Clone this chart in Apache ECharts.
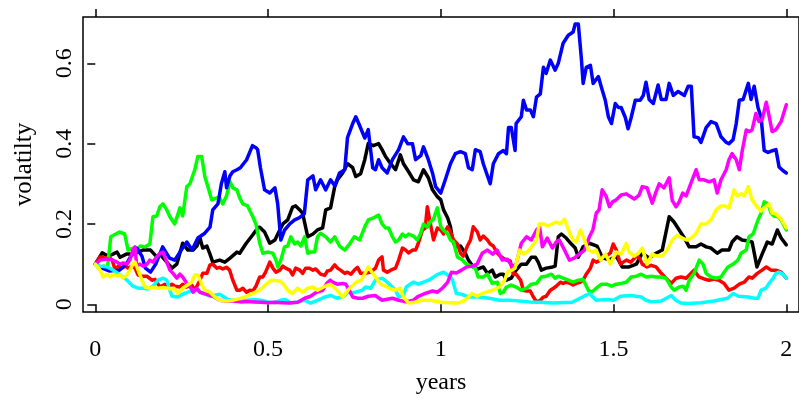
<!DOCTYPE html>
<html><head><meta charset="utf-8">
<script src="https://cdn.jsdelivr.net/npm/echarts@6/dist/echarts.min.js"></script>
<style>html,body{margin:0;padding:0;background:#fff}#c{width:799px;height:404px}</style>
</head><body><div id="c"></div>
<script>
const xTicks = [0, 0.5, 1, 1.5, 2];
const xTickLabels = ['0', '0.5', '1', '1.5', '2'];
const yTicks = [0, 0.2, 0.4, 0.6];
const yTickLabels = ['0', '0.2', '0.4', '0.6'];
const xTitle = 'years';
const yTitle = 'volatilty';
const seriesNames = ['black', 'red', 'green', 'blue', 'cyan', 'magenta', 'yellow'];
const seriesColors = ['#000000', '#FF0000', '#00FF00', '#0000FF', '#00FFFF', '#FF00FF', '#FFFF00'];

const black = [[0,0.10],[0.02,0.128],[0.037,0.12],[0.051,0.125],[0.063,0.13],[0.072,0.117],[0.09,0.125],[0.11,0.125],[0.138,0.135],[0.16,0.135],[0.178,0.118],[0.187,0.125],[0.207,0.105],[0.222,0.09],[0.236,0.10],[0.253,0.152],[0.268,0.135],[0.283,0.135],[0.294,0.145],[0.303,0.165],[0.311,0.14],[0.323,0.145],[0.332,0.125],[0.34,0.105],[0.36,0.11],[0.375,0.105],[0.39,0.115],[0.41,0.13],[0.418,0.127],[0.437,0.152],[0.455,0.172],[0.47,0.19],[0.476,0.192],[0.49,0.18],[0.505,0.152],[0.52,0.16],[0.534,0.185],[0.543,0.20],[0.557,0.21],[0.571,0.242],[0.58,0.245],[0.592,0.235],[0.6,0.227],[0.615,0.168],[0.63,0.175],[0.643,0.185],[0.658,0.19],[0.667,0.235],[0.681,0.24],[0.693,0.293],[0.701,0.31],[0.716,0.327],[0.73,0.35],[0.745,0.34],[0.754,0.318],[0.768,0.325],[0.78,0.36],[0.79,0.40],[0.805,0.395],[0.82,0.40],[0.83,0.385],[0.84,0.368],[0.855,0.35],[0.869,0.335],[0.883,0.372],[0.892,0.35],[0.907,0.33],[0.921,0.31],[0.935,0.305],[0.95,0.335],[0.964,0.315],[0.976,0.285],[0.99,0.268],[1.0,0.26],[1.008,0.235],[1.02,0.215],[1.028,0.193],[1.034,0.16],[1.042,0.143],[1.057,0.145],[1.071,0.127],[1.08,0.11],[1.094,0.093],[1.108,0.088],[1.123,0.093],[1.135,0.077],[1.149,0.085],[1.158,0.068],[1.172,0.075],[1.181,0.075],[1.19,0.06],[1.204,0.065],[1.218,0.085],[1.233,0.10],[1.248,0.10],[1.262,0.117],[1.274,0.117],[1.282,0.105],[1.291,0.085],[1.305,0.09],[1.32,0.092],[1.331,0.095],[1.34,0.168],[1.349,0.175],[1.363,0.165],[1.378,0.15],[1.389,0.14],[1.398,0.117],[1.412,0.143],[1.43,0.152],[1.452,0.145],[1.467,0.117],[1.488,0.11],[1.508,0.12],[1.525,0.093],[1.545,0.093],[1.566,0.10],[1.583,0.127],[1.603,0.115],[1.623,0.127],[1.641,0.135],[1.661,0.218],[1.675,0.205],[1.69,0.185],[1.705,0.165],[1.719,0.143],[1.739,0.143],[1.753,0.15],[1.768,0.143],[1.782,0.14],[1.8,0.127],[1.814,0.135],[1.834,0.135],[1.843,0.155],[1.857,0.168],[1.872,0.16],[1.886,0.158],[1.901,0.155],[1.915,0.093],[1.93,0.125],[1.945,0.155],[1.959,0.15],[1.974,0.185],[1.985,0.165],[2.0,0.148]];

const red = [[0,0.10],[0.014,0.118],[0.029,0.115],[0.038,0.118],[0.049,0.11],[0.058,0.085],[0.066,0.095],[0.078,0.09],[0.087,0.095],[0.095,0.09],[0.107,0.095],[0.115,0.09],[0.124,0.073],[0.135,0.07],[0.149,0.07],[0.164,0.06],[0.173,0.062],[0.187,0.043],[0.201,0.05],[0.21,0.043],[0.222,0.05],[0.23,0.045],[0.245,0.043],[0.253,0.05],[0.263,0.043],[0.279,0.048],[0.288,0.035],[0.303,0.06],[0.311,0.077],[0.323,0.077],[0.332,0.098],[0.34,0.10],[0.352,0.09],[0.36,0.092],[0.369,0.088],[0.38,0.092],[0.389,0.085],[0.398,0.06],[0.41,0.035],[0.418,0.035],[0.427,0.04],[0.438,0.03],[0.447,0.035],[0.456,0.033],[0.465,0.045],[0.476,0.068],[0.485,0.068],[0.493,0.08],[0.505,0.105],[0.514,0.09],[0.523,0.08],[0.534,0.085],[0.543,0.095],[0.551,0.09],[0.563,0.085],[0.571,0.073],[0.58,0.09],[0.592,0.085],[0.6,0.077],[0.609,0.09],[0.62,0.09],[0.63,0.085],[0.638,0.088],[0.652,0.075],[0.664,0.072],[0.672,0.083],[0.681,0.085],[0.693,0.098],[0.701,0.09],[0.71,0.085],[0.722,0.077],[0.73,0.08],[0.74,0.075],[0.75,0.085],[0.759,0.092],[0.768,0.077],[0.782,0.077],[0.797,0.08],[0.811,0.09],[0.82,0.11],[0.83,0.118],[0.834,0.085],[0.845,0.08],[0.855,0.085],[0.869,0.09],[0.878,0.11],[0.889,0.14],[0.898,0.135],[0.907,0.128],[0.918,0.135],[0.927,0.135],[0.935,0.152],[0.947,0.185],[0.955,0.19],[0.961,0.243],[0.97,0.20],[0.979,0.16],[0.99,0.19],[1.0,0.185],[1.008,0.175],[1.02,0.193],[1.028,0.18],[1.037,0.16],[1.048,0.15],[1.057,0.127],[1.065,0.12],[1.077,0.145],[1.086,0.16],[1.094,0.193],[1.106,0.18],[1.114,0.16],[1.123,0.17],[1.135,0.16],[1.143,0.15],[1.152,0.145],[1.164,0.127],[1.172,0.12],[1.181,0.115],[1.19,0.11],[1.201,0.108],[1.21,0.075],[1.218,0.075],[1.231,0.06],[1.239,0.035],[1.248,0.033],[1.259,0.033],[1.268,0.018],[1.277,0.006],[1.288,0.01],[1.297,0.018],[1.305,0.02],[1.317,0.035],[1.326,0.04],[1.334,0.045],[1.346,0.055],[1.354,0.052],[1.363,0.055],[1.375,0.052],[1.383,0.048],[1.392,0.052],[1.404,0.055],[1.412,0.06],[1.421,0.075],[1.433,0.09],[1.441,0.11],[1.45,0.105],[1.462,0.11],[1.47,0.12],[1.479,0.12],[1.491,0.128],[1.499,0.15],[1.508,0.135],[1.52,0.10],[1.528,0.105],[1.537,0.11],[1.55,0.105],[1.566,0.12],[1.575,0.115],[1.583,0.10],[1.597,0.093],[1.609,0.097],[1.623,0.093],[1.638,0.077],[1.652,0.065],[1.667,0.052],[1.681,0.065],[1.695,0.068],[1.71,0.065],[1.733,0.085],[1.747,0.068],[1.762,0.063],[1.776,0.06],[1.791,0.063],[1.805,0.06],[1.82,0.052],[1.834,0.035],[1.849,0.04],[1.864,0.05],[1.878,0.055],[1.892,0.068],[1.901,0.065],[1.916,0.077],[1.93,0.085],[1.942,0.093],[1.956,0.085],[1.97,0.085],[1.985,0.08],[2.0,0.065]];

const green = [[0,0.10],[0.01,0.09],[0.025,0.095],[0.035,0.09],[0.045,0.168],[0.05,0.17],[0.07,0.18],[0.085,0.175],[0.095,0.135],[0.11,0.14],[0.12,0.135],[0.13,0.145],[0.145,0.143],[0.158,0.15],[0.167,0.218],[0.178,0.22],[0.187,0.243],[0.196,0.25],[0.207,0.235],[0.216,0.218],[0.23,0.20],[0.245,0.24],[0.253,0.22],[0.265,0.293],[0.274,0.30],[0.288,0.335],[0.297,0.368],[0.308,0.368],[0.317,0.318],[0.326,0.293],[0.337,0.26],[0.352,0.265],[0.36,0.265],[0.369,0.25],[0.38,0.27],[0.39,0.305],[0.398,0.29],[0.41,0.285],[0.418,0.265],[0.427,0.25],[0.441,0.245],[0.456,0.218],[0.465,0.20],[0.476,0.152],[0.485,0.127],[0.50,0.13],[0.514,0.127],[0.523,0.11],[0.528,0.093],[0.537,0.11],[0.548,0.143],[0.557,0.145],[0.566,0.168],[0.577,0.15],[0.586,0.155],[0.595,0.145],[0.606,0.168],[0.615,0.127],[0.623,0.13],[0.635,0.13],[0.643,0.168],[0.652,0.177],[0.667,0.168],[0.681,0.155],[0.693,0.168],[0.707,0.145],[0.722,0.135],[0.736,0.15],[0.75,0.168],[0.765,0.16],[0.78,0.193],[0.79,0.21],[0.805,0.215],[0.82,0.222],[0.83,0.20],[0.84,0.19],[0.849,0.19],[0.86,0.168],[0.869,0.155],[0.878,0.16],[0.889,0.175],[0.898,0.168],[0.907,0.175],[0.921,0.17],[0.932,0.16],[0.941,0.175],[0.95,0.20],[0.961,0.192],[0.97,0.205],[0.979,0.212],[0.99,0.24],[1.0,0.193],[1.008,0.185],[1.02,0.175],[1.028,0.16],[1.037,0.155],[1.048,0.118],[1.063,0.11],[1.071,0.102],[1.086,0.095],[1.10,0.09],[1.108,0.068],[1.123,0.068],[1.135,0.075],[1.149,0.052],[1.164,0.055],[1.172,0.027],[1.181,0.03],[1.19,0.043],[1.204,0.048],[1.218,0.043],[1.233,0.035],[1.248,0.04],[1.262,0.05],[1.277,0.052],[1.291,0.068],[1.305,0.07],[1.32,0.075],[1.331,0.065],[1.34,0.07],[1.354,0.065],[1.369,0.06],[1.383,0.055],[1.398,0.06],[1.412,0.062],[1.427,0.035],[1.436,0.03],[1.45,0.04],[1.465,0.05],[1.48,0.05],[1.494,0.045],[1.508,0.05],[1.522,0.052],[1.537,0.055],[1.551,0.068],[1.566,0.07],[1.58,0.075],[1.594,0.068],[1.609,0.07],[1.623,0.068],[1.638,0.068],[1.652,0.065],[1.667,0.043],[1.675,0.035],[1.69,0.043],[1.702,0.045],[1.71,0.035],[1.719,0.06],[1.733,0.077],[1.748,0.11],[1.759,0.10],[1.768,0.077],[1.782,0.068],[1.797,0.065],[1.811,0.068],[1.82,0.08],[1.831,0.093],[1.846,0.10],[1.86,0.11],[1.869,0.127],[1.884,0.135],[1.892,0.168],[1.904,0.175],[1.918,0.21],[1.927,0.227],[1.936,0.255],[1.947,0.25],[1.956,0.227],[1.964,0.22],[1.976,0.218],[1.985,0.21],[2.0,0.185]];

const blue = [[0,0.10],[0.02,0.09],[0.04,0.083],[0.07,0.085],[0.09,0.10],[0.11,0.13],[0.12,0.14],[0.135,0.12],[0.145,0.09],[0.16,0.08],[0.175,0.10],[0.195,0.143],[0.215,0.115],[0.23,0.11],[0.245,0.13],[0.265,0.155],[0.28,0.135],[0.297,0.165],[0.317,0.177],[0.332,0.192],[0.34,0.235],[0.355,0.25],[0.365,0.30],[0.375,0.33],[0.38,0.29],[0.39,0.32],[0.398,0.33],[0.41,0.335],[0.42,0.34],[0.438,0.36],[0.455,0.395],[0.465,0.39],[0.47,0.385],[0.478,0.34],[0.49,0.285],[0.505,0.277],[0.52,0.29],[0.528,0.25],[0.537,0.16],[0.548,0.185],[0.563,0.20],[0.577,0.21],[0.59,0.215],[0.605,0.225],[0.615,0.31],[0.63,0.32],[0.638,0.285],[0.652,0.31],[0.667,0.285],[0.681,0.31],[0.693,0.295],[0.707,0.327],[0.722,0.335],[0.73,0.415],[0.745,0.45],[0.754,0.467],[0.765,0.445],[0.78,0.414],[0.79,0.435],[0.803,0.34],[0.811,0.335],[0.82,0.36],[0.83,0.34],[0.845,0.327],[0.86,0.36],[0.878,0.385],[0.892,0.417],[0.904,0.40],[0.918,0.40],[0.927,0.36],[0.942,0.37],[0.95,0.392],[0.964,0.36],[0.976,0.327],[0.985,0.293],[1.0,0.277],[1.013,0.31],[1.028,0.35],[1.042,0.375],[1.057,0.38],[1.071,0.375],[1.08,0.34],[1.091,0.335],[1.10,0.385],[1.114,0.38],[1.123,0.35],[1.143,0.30],[1.152,0.35],[1.167,0.375],[1.181,0.383],[1.19,0.375],[1.196,0.44],[1.204,0.44],[1.215,0.383],[1.218,0.45],[1.233,0.467],[1.239,0.508],[1.248,0.484],[1.259,0.484],[1.268,0.467],[1.277,0.516],[1.288,0.524],[1.297,0.59],[1.305,0.575],[1.317,0.608],[1.331,0.583],[1.34,0.60],[1.354,0.65],[1.369,0.67],[1.383,0.678],[1.389,0.698],[1.398,0.698],[1.407,0.61],[1.412,0.55],[1.421,0.59],[1.433,0.595],[1.441,0.55],[1.456,0.567],[1.465,0.54],[1.476,0.508],[1.485,0.467],[1.494,0.45],[1.505,0.50],[1.514,0.49],[1.522,0.49],[1.534,0.465],[1.542,0.437],[1.551,0.465],[1.563,0.508],[1.577,0.508],[1.586,0.52],[1.594,0.553],[1.603,0.51],[1.615,0.50],[1.629,0.546],[1.638,0.51],[1.652,0.51],[1.661,0.55],[1.673,0.52],[1.687,0.53],[1.705,0.52],[1.716,0.543],[1.725,0.543],[1.733,0.417],[1.745,0.415],[1.753,0.403],[1.768,0.44],[1.782,0.455],[1.797,0.45],[1.811,0.417],[1.826,0.403],[1.834,0.40],[1.846,0.41],[1.855,0.45],[1.864,0.508],[1.875,0.51],[1.89,0.55],[1.898,0.51],[1.907,0.543],[1.918,0.49],[1.927,0.465],[1.936,0.383],[1.947,0.378],[1.962,0.383],[1.97,0.385],[1.979,0.342],[1.99,0.333],[2.0,0.327]];

const cyan = [[0,0.10],[0.014,0.095],[0.035,0.093],[0.052,0.085],[0.072,0.073],[0.092,0.06],[0.109,0.045],[0.124,0.04],[0.138,0.04],[0.152,0.038],[0.167,0.045],[0.182,0.06],[0.196,0.065],[0.207,0.06],[0.216,0.035],[0.222,0.02],[0.239,0.018],[0.253,0.025],[0.268,0.03],[0.283,0.035],[0.293,0.035],[0.303,0.03],[0.318,0.025],[0.332,0.02],[0.36,0.025],[0.384,0.012],[0.398,0.01],[0.42,0.008],[0.44,0.01],[0.462,0.012],[0.48,0.01],[0.50,0.006],[0.52,0.004],[0.536,0.01],[0.55,0.012],[0.566,0.003],[0.586,0.006],[0.606,0.01],[0.623,0.003],[0.643,0.01],[0.664,0.018],[0.681,0.022],[0.70,0.015],[0.72,0.02],[0.73,0.03],[0.745,0.028],[0.773,0.035],[0.782,0.043],[0.797,0.04],[0.811,0.06],[0.83,0.065],[0.845,0.055],[0.869,0.035],[0.878,0.018],[0.892,0.022],[0.90,0.043],[0.92,0.055],[0.935,0.05],[0.965,0.06],[0.988,0.073],[1.008,0.08],[1.028,0.068],[1.034,0.06],[1.045,0.027],[1.06,0.025],[1.082,0.018],[1.11,0.018],[1.14,0.015],[1.17,0.01],[1.20,0.01],[1.256,0.006],[1.29,0.005],[1.322,0.003],[1.38,0.005],[1.41,0.018],[1.43,0.027],[1.45,0.01],[1.48,0.012],[1.50,0.01],[1.52,0.02],[1.55,0.022],[1.58,0.018],[1.594,0.01],[1.609,0.006],[1.638,0.008],[1.667,0.022],[1.68,0.01],[1.695,0.003],[1.715,0.002],[1.753,0.004],[1.79,0.008],[1.83,0.015],[1.846,0.027],[1.862,0.02],[1.89,0.018],[1.907,0.015],[1.918,0.015],[1.927,0.035],[1.941,0.04],[1.95,0.052],[1.962,0.065],[1.97,0.077],[1.979,0.08],[1.99,0.075],[2.0,0.065]];

const magenta = [[0,0.10],[0.014,0.11],[0.035,0.113],[0.05,0.11],[0.063,0.105],[0.072,0.10],[0.081,0.103],[0.092,0.10],[0.10,0.11],[0.109,0.135],[0.115,0.143],[0.12,0.095],[0.129,0.10],[0.138,0.095],[0.15,0.10],[0.158,0.11],[0.167,0.105],[0.178,0.118],[0.187,0.127],[0.196,0.13],[0.207,0.105],[0.216,0.085],[0.225,0.077],[0.236,0.065],[0.245,0.075],[0.253,0.068],[0.265,0.052],[0.274,0.045],[0.283,0.03],[0.294,0.04],[0.303,0.03],[0.323,0.025],[0.34,0.02],[0.36,0.01],[0.38,0.008],[0.398,0.008],[0.42,0.006],[0.44,0.007],[0.46,0.006],[0.48,0.005],[0.50,0.004],[0.52,0.005],[0.54,0.004],[0.56,0.003],[0.586,0.005],[0.606,0.015],[0.623,0.02],[0.64,0.03],[0.658,0.035],[0.67,0.052],[0.68,0.06],[0.687,0.055],[0.70,0.05],[0.716,0.052],[0.725,0.05],[0.735,0.035],[0.745,0.018],[0.76,0.015],[0.774,0.015],[0.79,0.02],[0.81,0.022],[0.83,0.01],[0.86,0.015],[0.878,0.01],[0.90,0.006],[0.92,0.01],[0.935,0.02],[0.955,0.027],[0.976,0.033],[0.99,0.03],[1.005,0.04],[1.02,0.055],[1.031,0.08],[1.045,0.078],[1.06,0.085],[1.074,0.093],[1.09,0.095],[1.105,0.10],[1.12,0.127],[1.135,0.135],[1.15,0.125],[1.163,0.135],[1.178,0.11],[1.193,0.112],[1.207,0.093],[1.218,0.10],[1.233,0.152],[1.248,0.168],[1.262,0.16],[1.277,0.185],[1.286,0.193],[1.294,0.143],[1.308,0.165],[1.323,0.14],[1.334,0.155],[1.343,0.16],[1.358,0.135],[1.372,0.11],[1.386,0.115],[1.401,0.125],[1.416,0.135],[1.43,0.168],[1.44,0.185],[1.45,0.227],[1.458,0.235],[1.467,0.285],[1.478,0.27],[1.488,0.243],[1.497,0.255],[1.508,0.26],[1.522,0.272],[1.537,0.275],[1.545,0.27],[1.56,0.262],[1.574,0.272],[1.583,0.293],[1.597,0.29],[1.612,0.252],[1.623,0.28],[1.632,0.30],[1.646,0.29],[1.661,0.315],[1.67,0.258],[1.681,0.243],[1.69,0.255],[1.70,0.277],[1.71,0.27],[1.739,0.335],[1.748,0.31],[1.762,0.31],[1.777,0.305],[1.791,0.31],[1.80,0.277],[1.811,0.31],[1.826,0.335],[1.834,0.36],[1.843,0.375],[1.855,0.36],[1.864,0.335],[1.872,0.38],[1.884,0.434],[1.892,0.43],[1.901,0.434],[1.912,0.475],[1.921,0.455],[1.93,0.46],[1.942,0.503],[1.95,0.47],[1.959,0.43],[1.97,0.435],[1.985,0.455],[2.0,0.497]];

const yellow = [[0,0.10],[0.014,0.085],[0.023,0.068],[0.035,0.075],[0.043,0.068],[0.052,0.075],[0.063,0.07],[0.072,0.073],[0.08,0.065],[0.092,0.073],[0.10,0.085],[0.109,0.10],[0.115,0.105],[0.124,0.085],[0.135,0.06],[0.144,0.043],[0.158,0.04],[0.167,0.042],[0.182,0.04],[0.196,0.042],[0.21,0.04],[0.22,0.038],[0.228,0.04],[0.239,0.027],[0.253,0.04],[0.279,0.055],[0.288,0.073],[0.297,0.073],[0.308,0.05],[0.317,0.035],[0.332,0.03],[0.346,0.018],[0.36,0.01],[0.38,0.008],[0.398,0.01],[0.418,0.014],[0.438,0.02],[0.456,0.027],[0.475,0.035],[0.495,0.05],[0.51,0.06],[0.534,0.058],[0.543,0.052],[0.557,0.035],[0.571,0.027],[0.585,0.04],[0.60,0.03],[0.615,0.04],[0.63,0.043],[0.643,0.035],[0.658,0.042],[0.68,0.05],[0.694,0.04],[0.707,0.027],[0.716,0.018],[0.736,0.04],[0.755,0.055],[0.77,0.06],[0.79,0.093],[0.805,0.075],[0.81,0.077],[0.826,0.05],[0.84,0.045],[0.855,0.038],[0.869,0.035],[0.883,0.04],[0.892,0.018],[0.907,0.003],[0.925,0.005],[0.945,0.01],[0.97,0.01],[1.0,0.005],[1.02,0.004],[1.05,0.003],[1.07,0.01],[1.09,0.027],[1.105,0.02],[1.12,0.027],[1.15,0.035],[1.17,0.043],[1.185,0.06],[1.193,0.08],[1.205,0.085],[1.215,0.09],[1.228,0.135],[1.24,0.125],[1.256,0.135],[1.277,0.16],[1.285,0.20],[1.297,0.20],[1.31,0.195],[1.322,0.20],[1.334,0.205],[1.346,0.20],[1.358,0.212],[1.374,0.175],[1.383,0.16],[1.392,0.155],[1.404,0.185],[1.416,0.16],[1.427,0.135],[1.441,0.13],[1.45,0.135],[1.462,0.11],[1.477,0.125],[1.49,0.10],[1.508,0.13],[1.522,0.125],[1.537,0.152],[1.545,0.13],[1.56,0.12],[1.575,0.13],[1.583,0.14],[1.597,0.10],[1.612,0.125],[1.626,0.12],[1.641,0.12],[1.655,0.135],[1.67,0.16],[1.684,0.172],[1.699,0.165],[1.713,0.16],[1.725,0.165],[1.739,0.177],[1.753,0.20],[1.768,0.20],[1.782,0.21],[1.797,0.235],[1.811,0.245],[1.82,0.245],[1.834,0.24],[1.849,0.285],[1.857,0.27],[1.869,0.275],[1.878,0.27],[1.89,0.293],[1.901,0.26],[1.915,0.243],[1.927,0.232],[1.936,0.24],[1.95,0.25],[1.959,0.227],[1.97,0.225],[1.985,0.212],[2.0,0.19]];

const seriesData = [black, red, green, blue, cyan, magenta, yellow];

const FONT = 'Liberation Serif';
function tickFormatter(ticks, labels) {
  return function (v) {
    const i = ticks.findIndex(t => Math.abs(t - v) < 1e-6);
    return i >= 0 ? labels[i] : '';
  };
}
const xMin = -0.0355, xMax = 2.0367;
const yMin = -0.0192, yMax = 0.7153;
const tickStyle = { color: '#000', width: 1.5 };

const chart = echarts.init(document.getElementById('c'), null, { renderer: 'canvas' });
chart.setOption({
  animation: false,
  backgroundColor: '#fff',
  grid: { left: 83, top: 17, width: 717, height: 295, show: true, borderColor: '#000', borderWidth: 1.5, backgroundColor: 'transparent' },
  xAxis: [
    {
      type: 'value', min: xMin, max: xMax, position: 'bottom',
      axisLine: { show: false }, splitLine: { show: false },
      axisTick: { show: true, length: 8, customValues: xTicks, lineStyle: tickStyle },
      axisLabel: { customValues: xTicks, formatter: tickFormatter(xTicks, xTickLabels), margin: 26, fontFamily: FONT, fontSize: 24, color: '#000' },
      name: xTitle, nameLocation: 'middle', nameGap: 59,
      nameTextStyle: { fontFamily: FONT, fontSize: 24, color: '#000' }
    },
    {
      type: 'value', min: xMin, max: xMax, position: 'top',
      axisLine: { show: false }, splitLine: { show: false },
      axisTick: { show: true, length: 8, customValues: xTicks, lineStyle: tickStyle },
      axisLabel: { show: false }
    }
  ],
  yAxis: {
    type: 'value', min: yMin, max: yMax, position: 'left',
    axisLine: { show: false }, splitLine: { show: false },
    axisTick: { show: true, length: 8, customValues: yTicks, lineStyle: tickStyle },
    axisLabel: { customValues: yTicks, formatter: tickFormatter(yTicks, yTickLabels), rotate: 90, margin: 6, fontFamily: FONT, fontSize: 24, color: '#000' },
    name: yTitle, nameLocation: 'middle', nameGap: 46, nameRotate: 90,
    nameTextStyle: { fontFamily: FONT, fontSize: 25, color: '#000' }
  },
  series: seriesData.map((d, i) => ({
    name: seriesNames[i], type: 'line', data: d, xAxisIndex: 0, yAxisIndex: 0,
    showSymbol: false, symbol: 'none', z: 2 + i,
    lineStyle: { color: seriesColors[i], width: 3.5, cap: 'round', join: 'round' },
    itemStyle: { color: seriesColors[i] }
  }))
});
</script>
</body></html>
